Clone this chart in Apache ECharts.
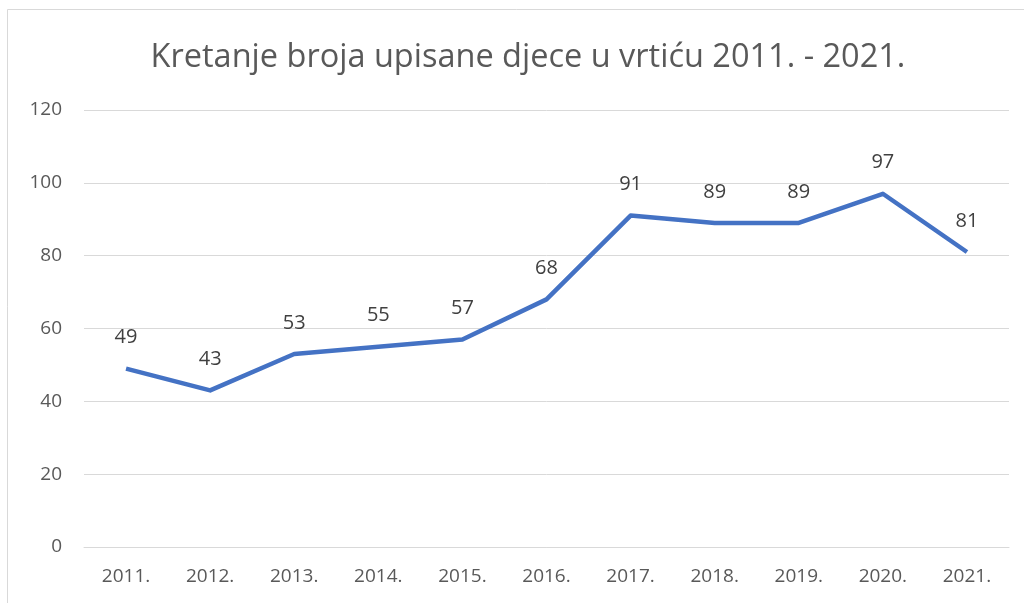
<!DOCTYPE html>
<html><head><meta charset="utf-8">
<script src="https://cdn.jsdelivr.net/npm/echarts@6/dist/echarts.min.js"></script>
<style>html,body{margin:0;padding:0;background:#fff}#c{width:1024px;height:603px}</style>
</head><body><div id="c"></div>
<script>
const title = 'Kretanje broja upisane djece u vrtiću 2011. - 2021.';
const categories = ['2011.','2012.','2013.','2014.','2015.','2016.','2017.','2018.','2019.','2020.','2021.'];
const values = [49,43,53,55,57,68,91,89,89,97,81];
const chart = echarts.init(document.getElementById('c'));
chart.setOption({
  animation:false,
  backgroundColor:'#fff',
  graphic:[{type:'rect',shape:{x:7.5,y:9.5,width:1040,height:620},style:{fill:'none',stroke:'#d9d9d9',lineWidth:1},silent:true}],
  title:{text:title,left:523,top:36,textAlign:'center',textStyle:{fontFamily:'Open Sans',fontSize:32.5,fontWeight:'normal',color:'#595959'}},
  grid:{left:84,right:15,top:110,bottom:56},
  xAxis:{type:'category',data:categories,boundaryGap:true,
    axisLine:{lineStyle:{color:'#d9d9d9',width:1}},axisTick:{show:false},
    axisLabel:{color:'#595959',fontFamily:'Open Sans',fontSize:19,margin:20}},
  yAxis:{type:'value',min:0,max:120,interval:20,
    axisLine:{show:false},axisTick:{show:false},
    splitLine:{lineStyle:{color:'#d9d9d9',width:1}},
    axisLabel:{color:'#595959',fontFamily:'Open Sans',fontSize:19,margin:22}},
  series:[{type:'line',data:values,symbol:'circle',symbolSize:0,showSymbol:true,lineStyle:{color:'#4472C4',width:4.5,join:'round'},
    itemStyle:{color:'#4472C4'},
    label:{show:true,position:'top',distance:21,color:'#404040',fontFamily:'Open Sans',fontSize:20}}]
});
</script></body></html>
